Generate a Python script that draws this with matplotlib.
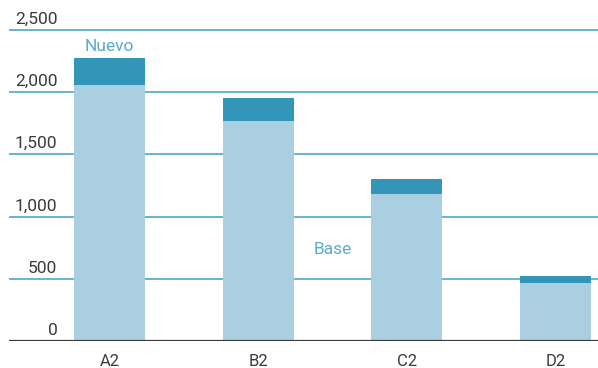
import numpy as np
import matplotlib.pyplot as plt
import matplotlib.transforms as mtransforms

# data
categories = ["A2", "B2", "C2", "D2"]
base = [2058, 1768, 1182, 466]
nuevo = [217, 185, 120, 56]
yticks = [0, 500, 1000, 1500, 2000, 2500]
ytick_labels = ["0", "500", "1,000", "1,500", "2,000", "2,500"]

plt.rcParams['font.family'] = ['Roboto', 'DejaVu Sans']

base_col = "#a9cfe0"
new_col = "#3396b9"
grid_col = "#4fa8c8"
text_col = "#3a3a3a"
label_col = "#58acd0"

fig = plt.figure(figsize=(5.98, 3.68), dpi=100)
ax = fig.add_axes([9/598, 27/368, 589/598, 341/368])

x = np.arange(len(categories))
ax.bar(x, base, width=0.477, color=base_col, zorder=2)
ax.bar(x, nuevo, width=0.477, bottom=base, color=new_col, zorder=2)

ax.set_xlim(-0.676, 3.286)
ax.set_ylim(0, 2741)

# gridlines with labels sitting above them
trans = mtransforms.blended_transform_factory(ax.transAxes, ax.transData)
for v, lab in zip(yticks, ytick_labels):
    if v > 0:
        ax.axhline(v, color=grid_col, lw=1.2, zorder=1)
    ax.text(0.082, v + 25, lab, transform=trans, ha="right", va="bottom",
            fontsize=12.5, color=text_col)
ax.axhline(0, color=text_col, lw=1.6, zorder=3)

ax.text(0, 2305, "Nuevo", ha="center", va="bottom", fontsize=12.5,
        color=label_col)
ax.text(1.5, 735, "Base", ha="center", va="center", fontsize=12.5,
        color=label_col)

ax.set_xticks(x)
ax.set_xticklabels(categories, fontsize=12, color=text_col)
ax.tick_params(axis="x", length=0, pad=9)
ax.set_yticks([])
for s in ax.spines.values():
    s.set_visible(False)

fig.savefig("out.png", dpi=100)
